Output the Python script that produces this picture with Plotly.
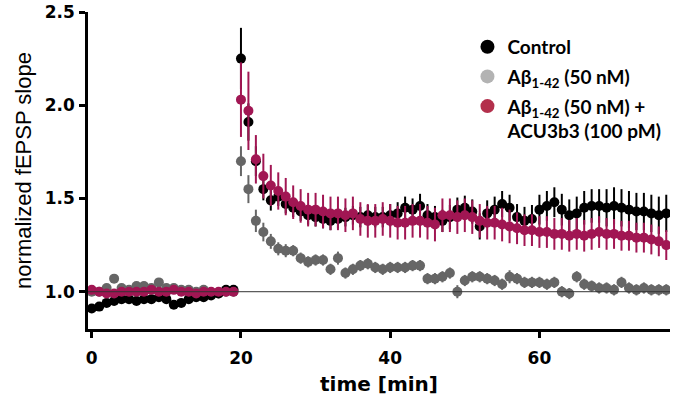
import plotly.graph_objects as go

# ---- data (time in min, normalized fEPSP slope) ----
time_base = [0, 1, 2, 3, 4, 5, 6, 7, 8, 9, 10, 11, 12, 13, 14, 15, 16, 17, 18, 19]
time_post = [20, 21, 22, 23, 24, 25, 26, 27, 28, 29, 30, 31, 32, 33, 34, 35, 36, 37, 38, 39,
             40, 41, 42, 43, 44, 45, 46, 47, 48, 49, 50, 51, 52, 53, 54, 55, 56, 57, 58, 59,
             60, 61, 62, 63, 64, 65, 66, 67, 68, 69, 70, 71, 72, 73, 74, 75, 76, 77]

control_base = [0.91, 0.92, 0.94, 0.95, 0.96, 0.96, 0.95, 0.96, 0.96, 0.97,
                0.96, 0.93, 0.94, 0.96, 0.97, 0.97, 0.98, 0.99, 1.01, 1.01]
control_post = [2.25, 1.91, 1.70, 1.55, 1.49, 1.51, 1.47, 1.45, 1.43, 1.41,
                1.40, 1.39, 1.38, 1.39, 1.40, 1.41, 1.40, 1.41, 1.40, 1.40,
                1.41, 1.42, 1.45, 1.44, 1.46, 1.41, 1.40, 1.38, 1.40, 1.44,
                1.45, 1.43, 1.35, 1.42, 1.44, 1.47, 1.45, 1.40, 1.38, 1.39,
                1.44, 1.46, 1.48, 1.44, 1.41, 1.42, 1.45, 1.46, 1.46, 1.45,
                1.46, 1.45, 1.44, 1.43, 1.43, 1.42, 1.41, 1.42]
control_err_base = [0.02, 0.02, 0.02, 0.02, 0.02, 0.02, 0.02, 0.02, 0.02, 0.02,
                    0.02, 0.02, 0.02, 0.02, 0.02, 0.02, 0.02, 0.02, 0.02, 0.02]
control_err_post = [0.165, 0.10, 0.08, 0.06, 0.055, 0.05, 0.05, 0.05, 0.05, 0.05,
                    0.05, 0.05, 0.05, 0.05, 0.05, 0.05, 0.055, 0.055, 0.055, 0.055,
                    0.06, 0.06, 0.06, 0.06, 0.065, 0.06, 0.06, 0.06, 0.065, 0.065,
                    0.065, 0.065, 0.07, 0.07, 0.07, 0.07, 0.07, 0.07, 0.075, 0.075,
                    0.08, 0.08, 0.08, 0.085, 0.085, 0.09, 0.09, 0.09, 0.09, 0.10,
                    0.10, 0.10, 0.10, 0.10, 0.10, 0.10, 0.10, 0.10]

abeta_base = [1.00, 1.00, 1.02, 1.07, 1.02, 1.01, 1.03, 1.03, 1.02, 1.05,
              1.02, 1.02, 1.01, 1.01, 1.00, 1.01, 0.99, 0.99, 1.00, 1.00]
abeta_post = [1.70, 1.55, 1.38, 1.32, 1.27, 1.23, 1.22, 1.22, 1.18, 1.16,
              1.17, 1.17, 1.12, 1.18, 1.10, 1.12, 1.14, 1.15, 1.13, 1.12,
              1.13, 1.13, 1.13, 1.14, 1.14, 1.07, 1.07, 1.08, 1.10, 1.00,
              1.06, 1.08, 1.08, 1.07, 1.06, 1.04, 1.08, 1.07, 1.05, 1.05,
              1.05, 1.04, 1.05, 1.00, 0.99, 1.08, 1.04, 1.03, 1.02, 1.02,
              1.01, 1.05, 1.02, 1.01, 1.02, 1.01, 1.01, 1.01]
abeta_err_base = [0.015, 0.015, 0.015, 0.02, 0.015, 0.015, 0.015, 0.015, 0.015, 0.02,
                  0.015, 0.015, 0.015, 0.015, 0.015, 0.015, 0.015, 0.015, 0.015, 0.015]
abeta_err_post = [0.08, 0.075, 0.06, 0.05, 0.04, 0.035, 0.035, 0.03, 0.03, 0.03,
                  0.03, 0.03, 0.03, 0.035, 0.03, 0.03, 0.03, 0.03, 0.03, 0.03,
                  0.03, 0.03, 0.03, 0.03, 0.03, 0.03, 0.03, 0.03, 0.03, 0.035,
                  0.03, 0.03, 0.03, 0.03, 0.03, 0.03, 0.035, 0.03, 0.03, 0.03,
                  0.03, 0.03, 0.03, 0.03, 0.03, 0.03, 0.03, 0.03, 0.03, 0.03,
                  0.03, 0.03, 0.03, 0.03, 0.03, 0.03, 0.03, 0.03]

acu_base = [1.01, 1.00, 0.99, 0.99, 1.00, 1.00, 1.00, 1.00, 1.01, 1.00,
            1.00, 1.01, 1.00, 1.00, 0.99, 1.00, 1.00, 1.00, 1.00, 1.00]
acu_post = [2.03, 1.97, 1.71, 1.62, 1.57, 1.54, 1.51, 1.48, 1.46, 1.44,
            1.44, 1.43, 1.42, 1.42, 1.41, 1.42, 1.39, 1.38, 1.38, 1.39,
            1.38, 1.37, 1.37, 1.38, 1.38, 1.37, 1.36, 1.41, 1.41, 1.40,
            1.41, 1.40, 1.38, 1.37, 1.37, 1.36, 1.35, 1.34, 1.33, 1.33,
            1.32, 1.32, 1.31, 1.31, 1.30, 1.31, 1.30, 1.31, 1.32, 1.31,
            1.31, 1.30, 1.30, 1.29, 1.29, 1.28, 1.27, 1.25]
acu_err_base = [0.015, 0.015, 0.015, 0.015, 0.015, 0.015, 0.015, 0.015, 0.015, 0.015,
                0.015, 0.015, 0.015, 0.015, 0.015, 0.015, 0.015, 0.015, 0.015, 0.015]
acu_err_post = [0.20, 0.21, 0.13, 0.12, 0.11, 0.10, 0.10, 0.09, 0.09, 0.09,
                0.09, 0.09, 0.09, 0.09, 0.09, 0.09, 0.09, 0.09, 0.09, 0.09,
                0.09, 0.09, 0.09, 0.09, 0.09, 0.09, 0.09, 0.09, 0.09, 0.09,
                0.09, 0.09, 0.09, 0.09, 0.09, 0.09, 0.09, 0.085, 0.085, 0.085,
                0.085, 0.085, 0.085, 0.085, 0.085, 0.085, 0.085, 0.085, 0.085, 0.085,
                0.08, 0.08, 0.08, 0.08, 0.08, 0.08, 0.08, 0.08]

series_names = ["Control",
                "Aβ<sub>1-42</sub> (50 nM)",
                "Aβ<sub>1-42</sub> (50 nM) +<br>ACU3b3 (100 pM)"]
data_colors = ["#000000", "#666666", "#a11653"]
legend_colors = ["#000000", "#b3b3b3", "#b3304c"]

t_all = time_base + time_post
series = [
    (control_base + control_post, control_err_base + control_err_post),
    (abeta_base + abeta_post, abeta_err_base + abeta_err_post),
    (acu_base + acu_post, acu_err_base + acu_err_post),
]

fig = go.Figure()

# draw order: gray, black, crimson on top
for idx in [1, 0, 2]:
    y, e = series[idx]
    fig.add_trace(go.Scatter(
        x=t_all, y=y, mode="markers", showlegend=False,
        marker=dict(color=data_colors[idx], size=10, symbol="circle", line=dict(width=0)),
        error_y=dict(type="data", array=e, visible=True, color=data_colors[idx],
                     thickness=2, width=0),
    ))

# legend entries
for i, (name, col) in enumerate(zip(series_names, legend_colors)):
    fig.add_trace(go.Scatter(
        x=[None], y=[None], mode="markers", name=name, legendgroup="g%d" % i,
        marker=dict(color=col, size=14, symbol="circle"),
    ))

fig.add_shape(type="line", xref="paper", yref="y", x0=0, x1=1, y0=1.0, y1=1.0,
              line=dict(color="#333333", width=1), layer="above")

axis_font = dict(family="DejaVu Sans", size=17, color="black", weight="bold")

fig.update_layout(
    width=675, height=400, autosize=False,
    margin=dict(l=88, r=5, t=12, b=71),
    paper_bgcolor="white", plot_bgcolor="white",
    showlegend=True,
    legend=dict(x=0.652, y=0.95, xanchor="left", yanchor="top", valign="top",
                font=dict(family="Lato", size=19, color="black", weight="bold"),
                bgcolor="rgba(0,0,0,0)", tracegroupgap=2, itemsizing="trace"),
    xaxis=dict(range=[-0.5, 77.5], tickvals=[0, 20, 40, 60], ticktext=["0", "20", "40", "60"],
               ticks="outside", ticklen=6, tickwidth=2.5, tickcolor="black",
               showline=True, linewidth=2.5, linecolor="black", automargin=False,
               showgrid=False, zeroline=False, tickfont=axis_font, ticklabelstandoff=6,
               ticklabeloverflow="allow",
               title=dict(text="time [min]", standoff=10,
                          font=dict(family="DejaVu Sans", size=20, color="black", weight="bold"))),
    yaxis=dict(range=[0.8, 2.5], tickvals=[1.0, 1.5, 2.0, 2.5],
               ticktext=["1.0", "1.5", "2.0", "2.5"],
               ticks="outside", ticklen=6, tickwidth=2.5, tickcolor="black",
               showline=True, linewidth=2.5, linecolor="black", automargin=False,
               showgrid=False, zeroline=False, tickfont=axis_font, ticklabelstandoff=1,
               ticklabeloverflow="allow",
               title=dict(text="normalized fEPSP slope", standoff=8,
                          font=dict(family="Liberation Sans", size=22, color="black"))),
)

# remove the page's default 8px body margin so the figure fills the 675x400 window
fig.write_html("out.html", config={"displayModeBar": False},
               post_script="document.body.style.margin='0px';")
